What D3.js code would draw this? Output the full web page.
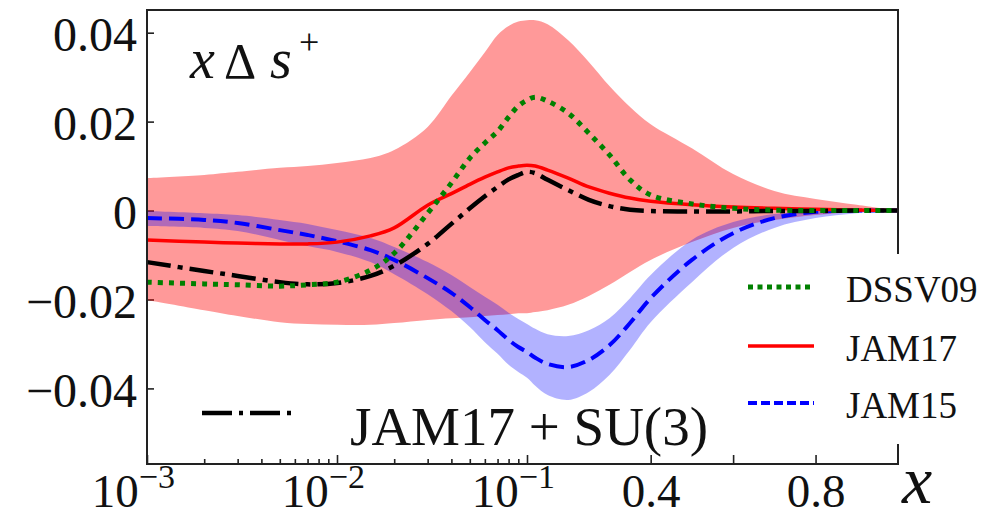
<!DOCTYPE html>
<html>
<head>
<meta charset="utf-8">
<script src="https://cdn.jsdelivr.net/npm/d3@7"></script>
</head>
<body style="margin:0">
<svg width="983" height="517"></svg>
<script>
// x grid shared by every curve
var xGrid = [0.001, 0.002, 0.003, 0.005, 0.007, 0.01, 0.015, 0.02, 0.03, 0.04, 0.05, 0.06, 0.07, 0.08, 0.09,
             0.1, 0.12, 0.15, 0.2, 0.25, 0.3, 0.35, 0.4, 0.5, 0.6, 0.7, 0.8, 0.9, 1.0];

var jam17Upper = [0.0073, 0.0080, 0.0087, 0.0096, 0.0100, 0.0107, 0.0118, 0.0136, 0.0188, 0.0258, 0.0311, 0.0356, 0.0395, 0.0415, 0.0425,
                  0.0428, 0.0428, 0.0419, 0.0383, 0.0334, 0.0280, 0.0233, 0.0194, 0.0140, 0.0082, 0.0044, 0.0026, 0.0013, 0];
var jam17Lower = [-0.0201, -0.0224, -0.0237, -0.0251, -0.0255, -0.0257, -0.0257, -0.0253, -0.0246, -0.0242, -0.0240, -0.0237, -0.0235, -0.0233, -0.0231,
                  -0.0231, -0.0228, -0.0224, -0.0212, -0.0192, -0.0167, -0.0138, -0.0111, -0.0071, -0.0039, -0.0021, -0.0010, -0.0003, 0];
var jam17 = [-0.0066, -0.0071, -0.0073, -0.0075, -0.0075, -0.0071, -0.0057, -0.0039, 0.0012, 0.0038, 0.0059, 0.0075, 0.0087, 0.0096, 0.0100,
             0.0102, 0.0100, 0.0091, 0.0073, 0.0053, 0.0039, 0.0028, 0.0021, 0.0013, 0.0008, 0.0005, 0.0003, 0.0001, 0];

var jam15Upper = [-0.0001, -0.0006, -0.0010, -0.0021, -0.0030, -0.0044, -0.0062, -0.0082, -0.0116, -0.0145, -0.0172, -0.0194, -0.0212, -0.0230, -0.0244,
                  -0.0255, -0.0266, -0.0278, -0.0282, -0.0269, -0.0242, -0.0197, -0.0145, -0.0066, -0.0026, -0.0008, -0.0001, 0, 0];
var jam15Lower = [-0.0035, -0.0039, -0.0046, -0.0066, -0.0080, -0.0093, -0.0116, -0.0143, -0.0188, -0.0226, -0.0262, -0.0296, -0.0322, -0.0347, -0.0363,
                  -0.0376, -0.0394, -0.0415, -0.0426, -0.0408, -0.0370, -0.0313, -0.0251, -0.0161, -0.0084, -0.0039, -0.0017, -0.0006, -0.0001];
var jam15 = [-0.0017, -0.0021, -0.0028, -0.0044, -0.0055, -0.0069, -0.0089, -0.0111, -0.0152, -0.0185, -0.0217, -0.0246, -0.0269, -0.0291, -0.0307,
             -0.0318, -0.0331, -0.0345, -0.0352, -0.0336, -0.0303, -0.0253, -0.0197, -0.0111, -0.0051, -0.0017, -0.0003, 0, 0];

var jam17su3 = [-0.0116, -0.0136, -0.0147, -0.0161, -0.0166, -0.0163, -0.0147, -0.0124, -0.0075, -0.0030, 0.0005, 0.0032, 0.0053, 0.0070, 0.0080,
                0.0087, 0.0084, 0.0069, 0.0046, 0.0024, 0.0010, 0.0002, -0.0001, -0.0002, -0.0002, -0.0001, -0.0001, 0, 0];

var dssv09 = [-0.0161, -0.0165, -0.0167, -0.0170, -0.0167, -0.0161, -0.0134, -0.0096, -0.0006, 0.0062, 0.0118, 0.0152, 0.0178, 0.0210, 0.0235,
              0.0248, 0.0255, 0.0246, 0.0219, 0.0174, 0.0125, 0.0069, 0.0035, 0.0015, 0.0005, 0.0001, 0, 0, 0];

var yTicks = [-0.04, -0.02, 0, 0.02, 0.04];
var xLogTicks = [1e-3, 1e-2, 1e-1];
var xLogLabels = ['−3', '−2', '−1'];
var xLinTicks = [0.4, 0.6, 0.8];
var xLinLabels = ['0.4', '', '0.8'];

var L = 147, R = 898, T = 10, B = 464;
var FONT = 'Liberation Serif';

var svg = d3.select('svg');

var xLog = d3.scaleLog().domain([1e-3, 0.1]).range([L, 527]);
var xLin = d3.scaleLinear().domain([0.1, 1]).range([527, R]);
function xScale(v) { return v <= 0.1 ? xLog(v) : xLin(v); }

var yScale = d3.scaleLinear().domain([-0.057, 0.0451]).range([B, T]);

var rows = xGrid.map(function(x, i) {
  return { x: x, u17: jam17Upper[i], l17: jam17Lower[i], c17: jam17[i],
           u15: jam15Upper[i], l15: jam15Lower[i], c15: jam15[i],
           su3: jam17su3[i], dssv: dssv09[i] };
});

var smooth = d3.curveCatmullRom.alpha(0.5);

function band(lo, hi) {
  return d3.area().curve(smooth)
           .x(function(d) { return xScale(d.x); })
           .y0(function(d) { return yScale(d[lo]); })
           .y1(function(d) { return yScale(d[hi]); });
}
function curve(key) {
  return d3.line().curve(smooth)
           .x(function(d) { return xScale(d.x); })
           .y(function(d) { return yScale(d[key]); });
}

// y axis
var gy = svg.append('g').attr('transform', 'translate(' + L + ',0)')
            .call(d3.axisLeft(yScale).tickValues(yTicks).tickSize(-7).tickPadding(10)
                    .tickFormat(function(d) {
                      return d === 0 ? '0' : (d < 0 ? '−' : '') + Math.abs(d).toFixed(2);
                    }));
gy.attr('font-family', FONT).attr('font-size', 48);
gy.selectAll('text').attr('dy', '0.38em').attr('fill', '#111');

// x axis, log part
var gxl = svg.append('g').attr('transform', 'translate(0,' + B + ')')
             .call(d3.axisBottom(xLog).tickValues(xLogTicks).tickSize(-9)
                     .tickFormat(function() { return '10'; }));
gxl.attr('font-family', FONT).attr('font-size', 47);
gxl.selectAll('text').attr('y', 43).attr('dy', null).attr('dx', '-0.3em').attr('fill', '#111')
   .each(function(d, i) {
     d3.select(this).append('tspan').attr('dy', -19).attr('font-size', 34).text(xLogLabels[i]);
   });

var minorTicks = [];
[1e-3, 1e-2].forEach(function(dec) {
  for (var k = 2; k <= 9; k++) minorTicks.push(k * dec);
});
var gm = svg.append('g').attr('transform', 'translate(0,' + B + ')')
            .call(d3.axisBottom(xLog).tickValues(minorTicks).tickSize(-5));
gm.selectAll('text').remove();

// x axis, linear part
var gxr = svg.append('g').attr('transform', 'translate(0,' + B + ')')
             .call(d3.axisBottom(xLin).tickValues(xLinTicks).tickSize(-9)
                     .tickFormat(function(d, i) { return xLinLabels[i]; }));
gxr.attr('font-family', FONT).attr('font-size', 47);
gxr.selectAll('text').attr('y', 43).attr('dy', null).attr('fill', '#111');

svg.selectAll('.domain').remove();
svg.selectAll('.tick line').attr('stroke', '#222').attr('stroke-width', 1.6);

// bands and curves
svg.append('path').datum(rows).attr('d', band('l17', 'u17'))
   .attr('fill', '#ff0000').attr('fill-opacity', 0.4);
svg.append('path').datum(rows).attr('d', band('l15', 'u15'))
   .attr('fill', '#0000ff').attr('fill-opacity', 0.3);

svg.append('path').datum(rows).attr('d', curve('c15'))
   .attr('fill', 'none').attr('stroke', '#0000ff').attr('stroke-width', 4)
   .attr('stroke-dasharray', '15,7');
svg.append('path').datum(rows).attr('d', curve('c17'))
   .attr('fill', 'none').attr('stroke', '#ff0000').attr('stroke-width', 3.5);
svg.append('path').datum(rows).attr('d', curve('su3'))
   .attr('fill', 'none').attr('stroke', '#000').attr('stroke-width', 4.5)
   .attr('stroke-dasharray', '24,7,5,7');
svg.append('path').datum(rows).attr('d', curve('dssv'))
   .attr('fill', 'none').attr('stroke', '#008000').attr('stroke-width', 5)
   .attr('stroke-dasharray', '5,6');

// frame
svg.append('rect').attr('x', L).attr('y', T).attr('width', R - L).attr('height', B - T)
   .attr('fill', 'none').attr('stroke', '#222').attr('stroke-width', 2);

// small legend
svg.append('rect').attr('x', 738).attr('y', 254).attr('width', 245).attr('height', 190).attr('fill', '#fff');
var legendItems = [
  { name: 'DSSV09', color: '#008000', dash: '5,4.5', w: 5, y: 287 },
  { name: 'JAM17', color: '#ff0000', dash: 'none', w: 3.5, y: 346 },
  { name: 'JAM15', color: '#0000ff', dash: '9,4', w: 4, y: 403 }
];
legendItems.forEach(function(it) {
  svg.append('line').attr('x1', 748).attr('x2', 814).attr('y1', it.y).attr('y2', it.y)
     .attr('stroke', it.color).attr('stroke-width', it.w)
     .attr('stroke-dasharray', it.dash);
  svg.append('text').attr('x', 846).attr('y', it.y + 15)
     .attr('font-family', FONT).attr('font-size', 37).attr('fill', '#111').text(it.name);
});

// big legend entry
svg.append('line').attr('x1', 202).attr('x2', 296).attr('y1', 413).attr('y2', 413)
   .attr('stroke', '#000').attr('stroke-width', 4.5).attr('stroke-dasharray', '30,7,4,7');
svg.append('text').attr('x', 350).attr('y', 445)
   .attr('font-family', FONT).attr('font-size', 55).attr('fill', '#111').text('JAM17 + SU(3)');

// panel label
var lab = svg.append('text').attr('y', 78).attr('font-family', FONT).attr('font-size', 50).attr('fill', '#111');
lab.append('tspan').attr('x', 190).style('font-style', 'italic').attr('font-size', 56).text('x');
lab.append('tspan').attr('x', 224).text('Δ');
lab.append('tspan').attr('x', 270).style('font-style', 'italic').attr('font-size', 56).text('s');
lab.append('tspan').attr('x', 299).attr('dy', -24).attr('font-size', 36).text('+');

// x axis label
svg.append('text').attr('x', 902).attr('y', 503).attr('font-family', FONT).attr('font-size', 68)
   .style('font-style', 'italic').attr('fill', '#111').text('x');
</script>
</body>
</html>
